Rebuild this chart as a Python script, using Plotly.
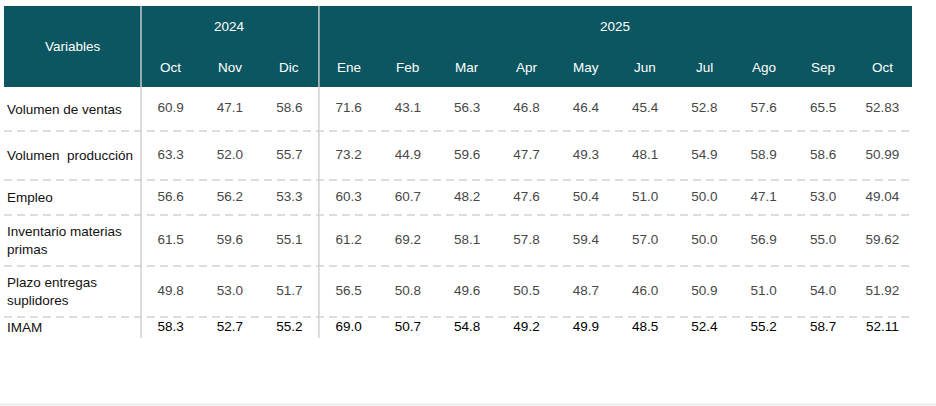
import plotly.graph_objects as go

# ---- data ----
variables = ["Volumen de ventas", "Volumen\u00a0 producción", "Empleo",
             "Inventario materias<br>primas", "Plazo entregas<br>suplidores", "IMAM"]
years = ["2024", "2025"]
year_spans = [3, 10]
months = ["Oct", "Nov", "Dic", "Ene", "Feb", "Mar", "Apr", "May", "Jun", "Jul", "Ago", "Sep", "Oct"]
decimals = [1, 1, 1, 1, 1, 1, 1, 1, 1, 1, 1, 1, 2]

volumen_ventas = [60.9, 47.1, 58.6, 71.6, 43.1, 56.3, 46.8, 46.4, 45.4, 52.8, 57.6, 65.5, 52.83]
volumen_produccion = [63.3, 52.0, 55.7, 73.2, 44.9, 59.6, 47.7, 49.3, 48.1, 54.9, 58.9, 58.6, 50.99]
empleo = [56.6, 56.2, 53.3, 60.3, 60.7, 48.2, 47.6, 50.4, 51.0, 50.0, 47.1, 53.0, 49.04]
inventario = [61.5, 59.6, 55.1, 61.2, 69.2, 58.1, 57.8, 59.4, 57.0, 50.0, 56.9, 55.0, 59.62]
plazo_entregas = [49.8, 53.0, 51.7, 56.5, 50.8, 49.6, 50.5, 48.7, 46.0, 50.9, 51.0, 54.0, 51.92]
imam = [58.3, 52.7, 55.2, 69.0, 50.7, 54.8, 49.2, 49.9, 48.5, 52.4, 55.2, 58.7, 52.11]
rows = [volumen_ventas, volumen_produccion, empleo, inventario, plazo_entregas, imam]

# ---- layout geometry (px in a 936x406 canvas) ----
W, H = 936, 406
left, label_right, right = 4, 141, 912
head_top, head_bot = 6, 87
row_bottoms = [131, 180, 215, 266, 317, 338]
col_w = (right - label_right) / len(months)
col_centers = [label_right + col_w * (i + 0.5) for i in range(len(months))]
row_tops = [head_bot] + row_bottoms[:-1]
row_centers = [(t + b) / 2 for t, b in zip(row_tops, row_bottoms)]

HEAD = "#0b5660"
FONT = "Liberation Sans, Arial, sans-serif"
FS = 13.5

fig = go.Figure()
shapes = []
annotations = []

# header band
shapes.append(dict(type="rect", x0=left, x1=right, y0=head_top, y1=head_bot,
                   fillcolor=HEAD, line=dict(width=0), layer="below"))

# dashed row separators
for yb in row_bottoms[:-1]:
    shapes.append(dict(type="line", x0=left, x1=right - 2, y0=yb, y1=yb,
                       line=dict(color="#d2d2d2", width=1.5, dash="8px,5px")))

# vertical year separators
xpos = label_right
for span in year_spans:
    shapes.append(dict(type="line", x0=xpos, x1=xpos, y0=head_top, y1=row_bottoms[-1],
                       line=dict(color="rgba(205,205,205,0.95)", width=1.5)))
    xpos += span * col_w

# bottom faint border
shapes.append(dict(type="line", x0=0, x1=W, y0=404.5, y1=404.5,
                   line=dict(color="#e6e6e6", width=1.5)))

# header texts
annotations.append(dict(x=(left + label_right) / 2, y=(head_top + head_bot) / 2, text="Variables",
                        showarrow=False, font=dict(color="white", size=FS, family=FONT)))
start = 0
for yr, span in zip(years, year_spans):
    cx = (col_centers[start] + col_centers[start + span - 1]) / 2
    annotations.append(dict(x=cx, y=26, text=yr, showarrow=False,
                            font=dict(color="white", size=FS, family=FONT)))
    start += span
for m, cx in zip(months, col_centers):
    annotations.append(dict(x=cx, y=67, text=m, showarrow=False,
                            font=dict(color="white", size=FS, family=FONT)))

# row labels
for lab, cy in zip(variables, row_centers):
    annotations.append(dict(x=left + 1, y=cy, text=lab, showarrow=False, xanchor="left",
                            align="left", font=dict(color="#111111", size=FS, family=FONT)))

# values
xs, ys, txt, cols = [], [], [], []
for r, (vals, cy) in enumerate(zip(rows, row_centers)):
    for c, (v, d) in enumerate(zip(vals, decimals)):
        xs.append(col_centers[c])
        ys.append(cy)
        txt.append(f"{v:.{d}f}")
        cols.append("#000000" if r == len(rows) - 1 else "#474747")

fig.add_trace(go.Scatter(x=xs, y=ys, text=txt, mode="text", textposition="middle center",
                         textfont=dict(color=cols, size=FS, family=FONT),
                         hoverinfo="skip", showlegend=False))

fig.update_layout(
    width=W, height=H, margin=dict(l=0, r=0, t=0, b=0),
    paper_bgcolor="white", plot_bgcolor="white",
    xaxis=dict(range=[0, W], visible=False, fixedrange=True),
    yaxis=dict(range=[H, 0], visible=False, fixedrange=True),
    shapes=shapes, annotations=annotations,
)

fig.write_html("out.html", config={"displayModeBar": False},
               post_script="document.body.style.margin='0px';document.body.style.overflow='hidden';")
